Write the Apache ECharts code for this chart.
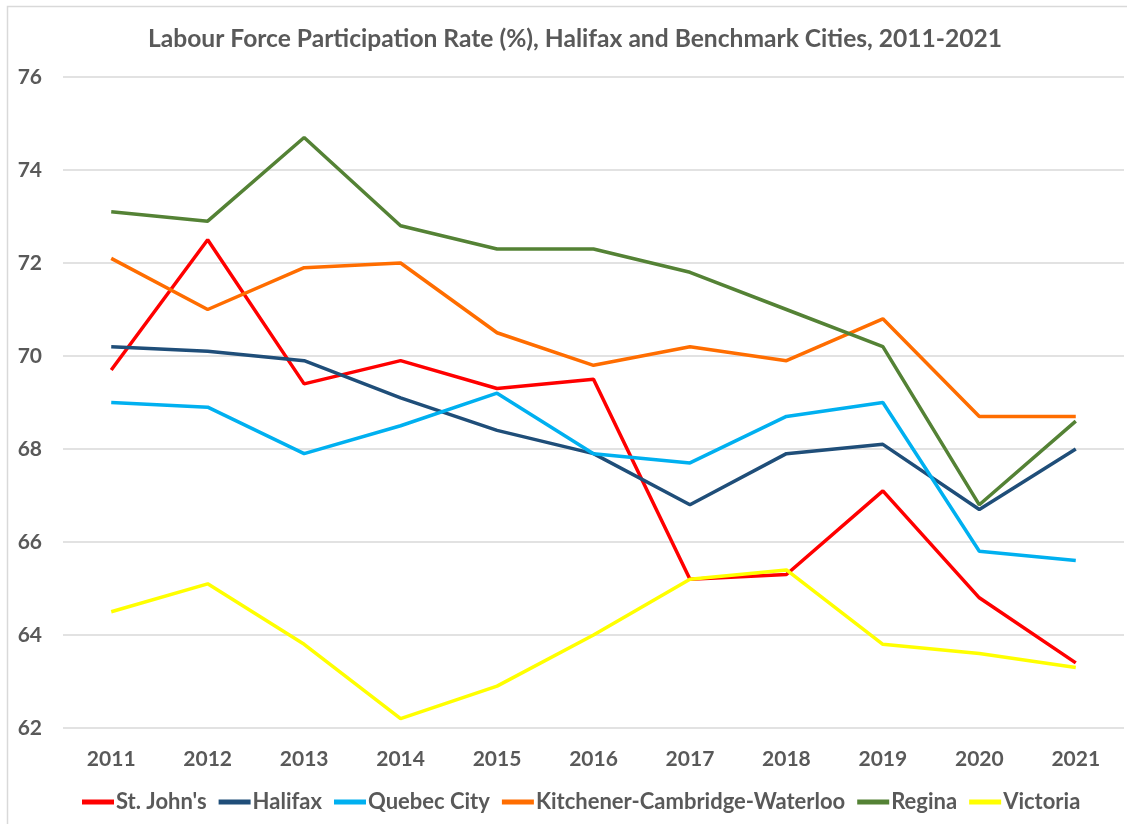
<!DOCTYPE html>
<html>
<head>
<meta charset="utf-8">
<script src="https://cdn.jsdelivr.net/npm/echarts@6/dist/echarts.min.js"></script>
<style>
  html, body { margin: 0; padding: 0; background: #fff; }
  #chart { width: 1127px; height: 824px; }
</style>
</head>
<body>
<div id="chart"></div>
<script>
const years = ['2011', '2012', '2013', '2014', '2015', '2016', '2017', '2018', '2019', '2020', '2021'];
const stJohns = [69.7, 72.5, 69.4, 69.9, 69.3, 69.5, 65.2, 65.3, 67.1, 64.8, 63.4];
const halifax = [70.2, 70.1, 69.9, 69.1, 68.4, 67.9, 66.8, 67.9, 68.1, 66.7, 68.0];
const quebecCity = [69.0, 68.9, 67.9, 68.5, 69.2, 67.9, 67.7, 68.7, 69.0, 65.8, 65.6];
const kitchener = [72.1, 71.0, 71.9, 72.0, 70.5, 69.8, 70.2, 69.9, 70.8, 68.7, 68.7];
const regina = [73.1, 72.9, 74.7, 72.8, 72.3, 72.3, 71.8, 71.0, 70.2, 66.8, 68.6];
const victoria = [64.5, 65.1, 63.8, 62.2, 62.9, 64.0, 65.2, 65.4, 63.8, 63.6, 63.3];

const textColor = '#595959';
const fontFamily = 'Lato, "Noto Sans", sans-serif';

function lineSeries(name, data, color) {
    return {
        name: name,
        type: 'line',
        data: data,
        symbol: 'none',
        lineStyle: { color: color, width: 3.5 },
        itemStyle: { color: color }
    };
}

const chart = echarts.init(document.getElementById('chart'));
chart.setOption({
    animation: false,
    graphic: [{
        type: 'rect',
        shape: { x: 7.5, y: 6.5, width: 1130, height: 830 },
        style: { fill: 'none', stroke: '#d9d9d9', lineWidth: 1.5 },
        silent: true
    }],
    title: {
        text: 'Labour Force Participation Rate (%), Halifax and Benchmark Cities, 2011-2021',
        left: 143,
        top: 22,
        textStyle: { color: textColor, fontFamily: fontFamily, fontSize: 24.6, fontWeight: 'bold' }
    },
    legend: {
        bottom: 6,
        left: 77,
        icon: 'rect',
        itemWidth: 32,
        itemHeight: 5,
        itemGap: 12,
        textStyle: { color: textColor, fontFamily: fontFamily, fontSize: 22, fontWeight: 'bold', padding: [0, 0, 0, -3] }
    },
    grid: { left: 63, right: 3, top: 77, bottom: 96 },
    xAxis: {
        type: 'category',
        data: years,
        boundaryGap: true,
        axisLine: { show: false },
        axisTick: { show: false },
        axisLabel: { color: textColor, fontFamily: fontFamily, fontSize: 21, fontWeight: 'bold', margin: 21 }
    },
    yAxis: {
        type: 'value',
        min: 62,
        max: 76,
        interval: 2,
        axisLine: { show: false },
        axisTick: { show: false },
        axisLabel: { color: textColor, fontFamily: fontFamily, fontSize: 21, fontWeight: 'bold', margin: 21 },
        splitLine: { lineStyle: { color: '#d9d9d9', width: 1.5 } }
    },
    series: [
        lineSeries("St. John's", stJohns, '#ff0000'),
        lineSeries('Halifax', halifax, '#1f4e79'),
        lineSeries('Quebec City', quebecCity, '#00b0f0'),
        lineSeries('Kitchener-Cambridge-Waterloo', kitchener, '#ff6d00'),
        lineSeries('Regina', regina, '#548235'),
        lineSeries('Victoria', victoria, '#ffff00')
    ]
});
</script>
</body>
</html>
